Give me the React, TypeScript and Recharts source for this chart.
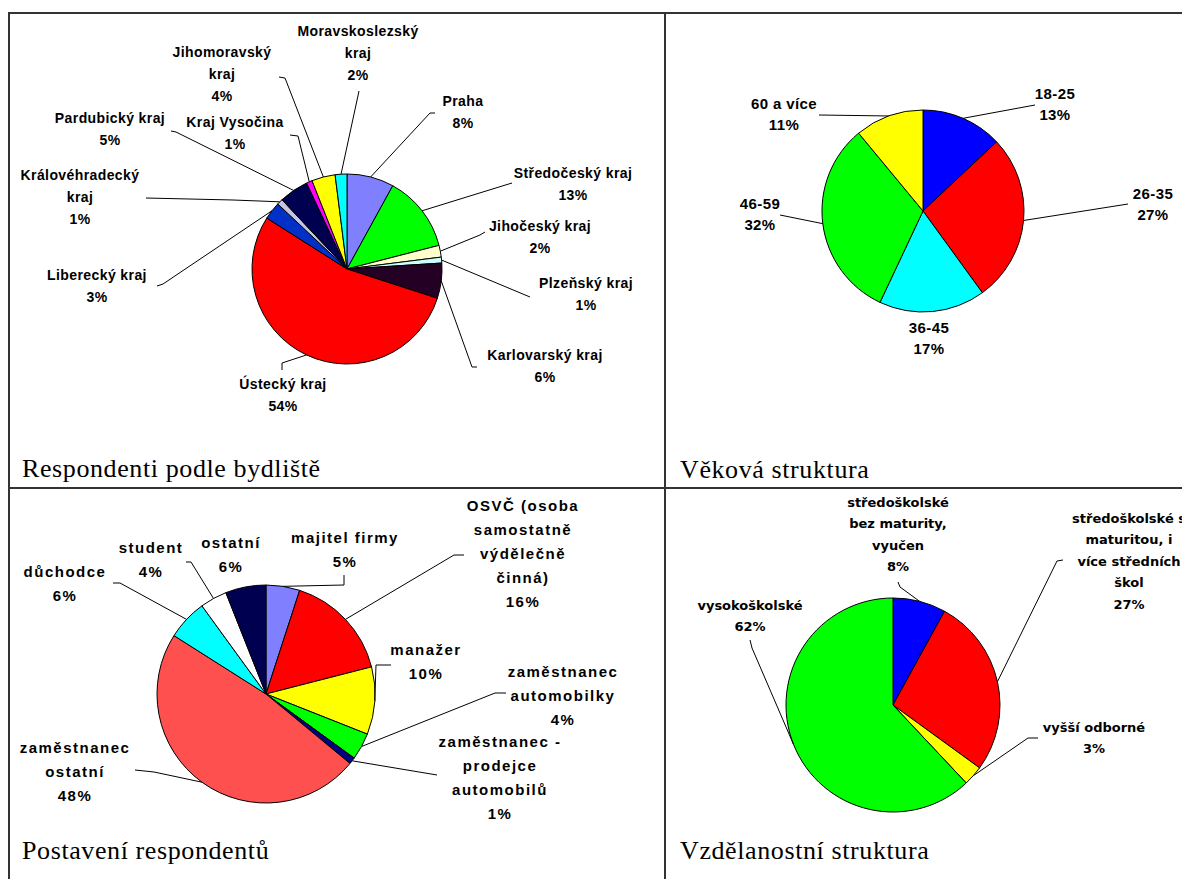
import { PieChart, Pie, Cell } from 'recharts'

// Respondenti podle bydliště
const regionNames = [
  'Praha', 'Středočeský kraj', 'Jihočeský kraj', 'Plzeňský kraj', 'Karlovarský kraj', 'Ústecký kraj',
  'Liberecký kraj', 'Královéhradecký kraj', 'Pardubický kraj', 'Kraj Vysočina', 'Jihomoravský kraj', 'Moravskoslezský kraj',
]
const regionShares = [8, 13, 2, 1, 6, 54, 3, 1, 5, 1, 4, 2]

// Věková struktura
const ageGroups = ['18-25', '26-35', '36-45', '46-59', '60 a více']
const ageShares = [13, 27, 17, 32, 11]

// Postavení respondentů
const statusNames = [
  'majitel firmy', 'OSVČ (osoba samostatně výdělečně činná)', 'manažer', 'zaměstnanec automobilky',
  'zaměstnanec - prodejce automobilů', 'zaměstnanec ostatní', 'důchodce', 'student', 'ostatní',
]
const statusShares = [5, 16, 10, 4, 1, 48, 6, 4, 6]

// Vzdělanostní struktura
const eduNames = [
  'středoškolské bez maturity, vyučen', 'středoškolské s maturitou, i více středních škol', 'vyšší odborné', 'vysokoškolské',
]
const eduShares = [8, 27, 3, 62]

const regionColors = ['#8080ff', '#00ff00', '#ffffcc', '#ccffff', '#240024', '#ff0000', '#0030c8', '#c4c4e4', '#000050', '#ff00ff', '#ffff00', '#00ffff']
const ageColors = ['#0000ff', '#ff0000', '#00ffff', '#00ff00', '#ffff00']
const statusColors = ['#8080ff', '#ff0000', '#ffff00', '#00ff00', '#000080', '#ff5050', '#00ffff', '#ffffff', '#000050']
const eduColors = ['#0000ff', '#ff0000', '#ffff00', '#00ff00']

type Pt = [number, number]
// text = centre of first label line, lead = leader points, both relative to the pie centre
interface Spot { lines: string[]; text: Pt; lead?: Pt[] }
interface Face { family: string; size: number; spacing: number; lh: number }

const regionSpots: Spot[] = [
  { lines: ['Praha'], text: [116, -168], lead: [[88, -156], [83, -156]] },
  { lines: ['Středočeský kraj'], text: [226, -96], lead: [[165, -86]] },
  { lines: ['Jihočeský kraj'], text: [193, -43], lead: [[138, -37], [133, -34]] },
  { lines: ['Plzeňský kraj'], text: [239, 14], lead: [[183, 28]] },
  { lines: ['Karlovarský kraj'], text: [198, 86], lead: [[130, 98], [125, 98]] },
  { lines: ['Ústecký kraj'], text: [-64, 115], lead: [[-65, 101], [-65, 94]] },
  { lines: ['Liberecký kraj'], text: [-250, 6], lead: [[-190, 17], [-184, 15]] },
  { lines: ['Královéhradecký', 'kraj'], text: [-267, -94], lead: [[-201, -71], [-114, -69]] },
  { lines: ['Pardubický kraj'], text: [-237, -151], lead: [[-176, -138], [-171, -137]] },
  { lines: ['Kraj Vysočina'], text: [-112, -147], lead: [[-57, -134], [-49, -133]] },
  { lines: ['Jihomoravský', 'kraj'], text: [-125, -217], lead: [[-68, -192], [-62, -191]] },
  { lines: ['Moravskoslezský', 'kraj'], text: [11, -238], lead: [[12, -178]] },
]

const ageSpots: Spot[] = [
  { lines: ['18-25'], text: [132, -117], lead: [[112, -106]] },
  { lines: ['26-35'], text: [230, -17], lead: [[205, -7]] },
  { lines: ['36-45'], text: [6, 117] },
  { lines: ['46-59'], text: [-163, -7], lead: [[-143, 4]] },
  { lines: ['60 a více'], text: [-139, -107], lead: [[-104, -96]] },
]

const statusSpots: Spot[] = [
  { lines: ['majitel firmy'], text: [79, -156], lead: [[78, -119], [78, -109]] },
  { lines: ['OSVČ (osoba', 'samostatně', 'výdělečně', 'činná)'], text: [257, -188], lead: [[198, -139], [188, -139]] },
  { lines: ['manažer'], text: [160, -44], lead: [[125, -29], [110, -29]] },
  { lines: ['zaměstnanec', 'automobilky'], text: [297, -22], lead: [[240, -1], [229, -1]] },
  { lines: ['zaměstnanec -', 'prodejce', 'automobilů'], text: [234, 48], lead: [[171, 81]] },
  { lines: ['zaměstnanec', 'ostatní'], text: [-191, 54], lead: [[-131, 76], [-112, 78]] },
  { lines: ['důchodce'], text: [-201, -122], lead: [[-153, -111], [-146, -111]] },
  { lines: ['student'], text: [-115, -146], lead: [[-80, -132], [-75, -132]] },
  { lines: ['ostatní'], text: [-35, -151] },
]

const eduSpots: Spot[] = [
  { lines: ['středoškolské', 'bez maturity,', 'vyučen'], text: [5, -203], lead: [[5, -123], [7, -118]] },
  { lines: ['středoškolské s', 'maturitou, i', 'více středních', 'škol'], text: [236, -187], lead: [[170, -145], [164, -144]] },
  { lines: ['vyšší odborné'], text: [201, 22], lead: [[145, 33], [135, 33]] },
  { lines: ['vysokoškolské'], text: [-143, -100], lead: [[-143, -65], [-141, -57]] },
]

const arialFace: Face = { family: '"Liberation Sans", Arial, sans-serif', size: 14, spacing: 0.4, lh: 22 }
const ageFace: Face = { family: '"Liberation Sans", Arial, sans-serif', size: 15, spacing: 0.4, lh: 21 }
const statusFace: Face = { family: '"Liberation Sans", Arial, sans-serif', size: 15, spacing: 1.5, lh: 24 }
const eduFace: Face = { family: '"DejaVu Sans", Verdana, sans-serif', size: 13, spacing: 0, lh: 21.5 }

function makeLabel(spots: Spot[], face: Face) {
  // eslint-disable-next-line @typescript-eslint/no-explicit-any
  return (props: any) => {
    const { cx, cy, midAngle, outerRadius, index, value } = props
    const spot = spots[index]
    if (!spot) return null
    const rad = Math.PI / 180
    const ex = cx + outerRadius * Math.cos(-midAngle * rad)
    const ey = cy + outerRadius * Math.sin(-midAngle * rad)
    const pts = spot.lead ? [...spot.lead.map(([x, y]) => [cx + x, cy + y]), [ex, ey]] : []
    const lines = [...spot.lines, `${value}%`]
    const tx = cx + spot.text[0]
    const ty = cy + spot.text[1]
    return (
      <g key={`lbl-${index}`}>
        {pts.length > 0 && (
          <polyline points={pts.map((p) => p.join(',')).join(' ')} fill="none" stroke="#000" strokeWidth={1} />
        )}
        <text
          x={tx}
          y={ty}
          textAnchor="middle"
          fontFamily={face.family}
          fontWeight="bold"
          fontSize={face.size}
          letterSpacing={face.spacing}
          fill="#000"
        >
          {lines.map((line, i) => (
            <tspan key={i} x={tx} y={ty + i * face.lh} dy="0.36em">
              {line}
            </tspan>
          ))}
        </text>
      </g>
    )
  }
}

const toRows = (names: string[], shares: number[]) => names.map((name, i) => ({ name, value: shares[i] }))

const W = 1182
const H = 871

export default function App() {
  const panels = [
    { data: toRows(regionNames, regionShares), colors: regionColors, spots: regionSpots, face: arialFace, cx: 339, cy: 261, r: 95 },
    { data: toRows(ageGroups, ageShares), colors: ageColors, spots: ageSpots, face: ageFace, cx: 915, cy: 203, r: 101 },
    { data: toRows(statusNames, statusShares), colors: statusColors, spots: statusSpots, face: statusFace, cx: 258, cy: 686, r: 109 },
    { data: toRows(eduNames, eduShares), colors: eduColors, spots: eduSpots, face: eduFace, cx: 885, cy: 697, r: 107 },
  ]
  const titleFont = '"Liberation Serif", "Times New Roman", serif'

  return (
    <div style={{ position: 'relative', width: W, height: H, background: '#fff' }}>
      <PieChart width={W} height={H} margin={{ top: 0, right: 0, bottom: 0, left: 0 }}>
        {panels.map((p, k) => (
          <Pie
            key={k}
            data={p.data}
            dataKey="value"
            nameKey="name"
            cx={p.cx}
            cy={p.cy}
            outerRadius={p.r}
            startAngle={90}
            endAngle={-270}
            stroke="#000"
            strokeWidth={1}
            labelLine={false}
            label={makeLabel(p.spots, p.face)}
            isAnimationActive={false}
          >
            {p.data.map((_, i) => (
              <Cell key={i} fill={p.colors[i]} />
            ))}
          </Pie>
        ))}
      </PieChart>
      <svg width={W} height={H} style={{ position: 'absolute', left: 0, top: 0, pointerEvents: 'none' }}>
        <rect x={0} y={4} width={W} height={2} fill="#333" />
        <rect x={0} y={4} width={2} height={H} fill="#333" />
        <rect x={656} y={4} width={2} height={H} fill="#333" />
        <rect x={0} y={479} width={W} height={2} fill="#333" />
        <g fontFamily={titleFont} fontSize={26} letterSpacing={0.6} fill="#000">
          <text x={14} y={469}>Respondenti podle bydliště</text>
          <text x={672} y={470}>Věková struktura</text>
          <text x={14} y={851}>Postavení respondentů</text>
          <text x={672} y={851}>Vzdělanostní struktura</text>
        </g>
      </svg>
    </div>
  )
}
